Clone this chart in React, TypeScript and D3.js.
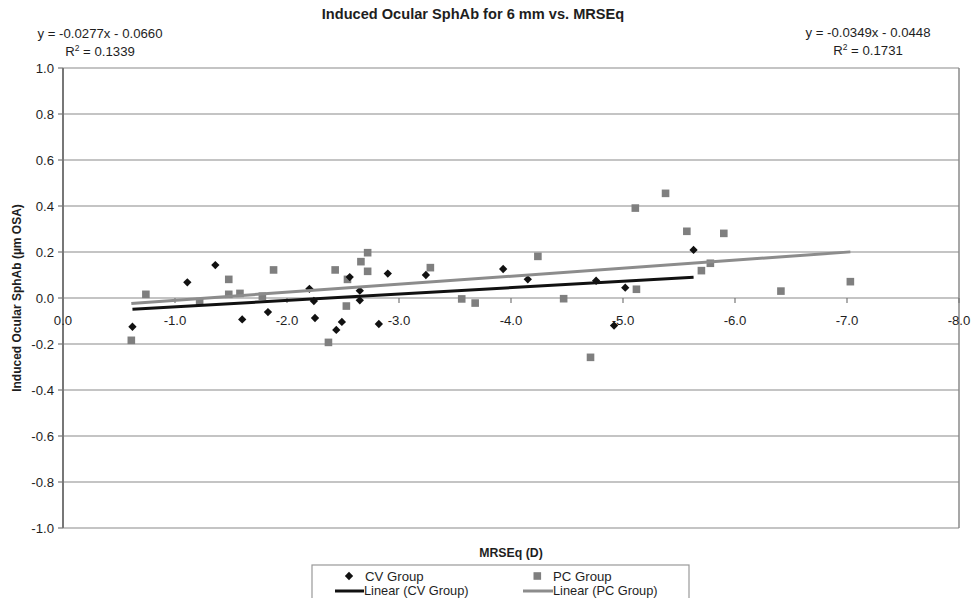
import React from "react";
import * as d3 from "d3";

// CV Group (black diamonds): [MRSEq, induced SphAb]
const cvGroup: [number, number][] = [
  [-0.62, -0.125], [-1.11, 0.068], [-1.36, 0.143], [-1.6, -0.093], [-1.83, -0.061],
  [-2.2, 0.04], [-2.24, -0.013], [-2.25, -0.087], [-2.44, -0.139], [-2.49, -0.104],
  [-2.56, 0.091], [-2.65, 0.032], [-2.65, -0.01], [-2.82, -0.113], [-2.9, 0.106],
  [-3.24, 0.1], [-3.93, 0.126], [-4.15, 0.081], [-4.76, 0.075], [-4.92, -0.12],
  [-5.02, 0.045], [-5.63, 0.209],
];

// PC Group (gray squares)
const pcGroup: [number, number][] = [
  [-0.61, -0.184], [-0.74, 0.016], [-1.22, -0.016], [-1.48, 0.081], [-1.48, 0.016],
  [-1.58, 0.02], [-1.78, 0.008], [-1.88, 0.122], [-2.37, -0.193], [-2.43, 0.122],
  [-2.53, -0.035], [-2.54, 0.081], [-2.66, 0.158], [-2.72, 0.197], [-2.72, 0.116],
  [-3.28, 0.132], [-3.56, -0.004], [-3.68, -0.022], [-4.24, 0.181], [-4.47, -0.003],
  [-4.71, -0.258], [-5.11, 0.391], [-5.12, 0.038], [-5.38, 0.455], [-5.57, 0.29],
  [-5.7, 0.119], [-5.78, 0.151], [-5.9, 0.281], [-6.41, 0.03], [-7.03, 0.071],
];

// trendline coefficients shown on the chart: y = slope * x + intercept
const cvFit = { slope: -0.0277, intercept: -0.066, label: "y = -0.0277x - 0.0660", r2: "0.1339" };
const pcFit = { slope: -0.0349, intercept: -0.0448, label: "y = -0.0349x - 0.0448", r2: "0.1731" };

const xTicks = [0, -1, -2, -3, -4, -5, -6, -7, -8];
const yTicks = [1, 0.8, 0.6, 0.4, 0.2, 0, -0.2, -0.4, -0.6, -0.8, -1];

const W = 971;
const H = 598;
const FONT = "'Liberation Sans', Arial, sans-serif";
const TEXT = "#1e1e1e";
const GRID = "#8a8a8a";
const CV_COLOR = "#111";
const PC_COLOR = "#7f7f7f";
const PC_LINE = "#8c8c8c";
const FS = 13.2; // tick / equation / legend font size

export default function App() {
  const x = d3.scaleLinear().domain([0, -8]).range([63, 959]);
  const y = d3.scaleLinear().domain([-1, 1]).range([528, 68]);

  const fitLine = (pts: [number, number][], fit: { slope: number; intercept: number }) => {
    const [x0, x1] = d3.extent(pts, (d) => d[0]) as [number, number];
    const line = d3
      .line<number>()
      .x((v) => x(v))
      .y((v) => y(fit.slope * v + fit.intercept));
    return line([x1, x0]) || "";
  };

  const diamond = d3.symbol().type(d3.symbolDiamond2).size(44)() || "";

  return (
    <div style={{ position: "absolute", left: 0, top: 0 }}>
      <svg width={W} height={H} style={{ display: "block", background: "#fff" }} fontFamily={FONT}>
        {/* title */}
        <text x={473} y={19} textAnchor="middle" fontSize={14.6} fontWeight="bold" fill={TEXT}>
          Induced Ocular SphAb for 6 mm vs. MRSEq
        </text>

        {/* trendline equations */}
        <text x={100} y={38} textAnchor="middle" fontSize={FS} fill={TEXT}>{cvFit.label}</text>
        <text x={100} y={56} textAnchor="middle" fontSize={FS} fill={TEXT}>
          R<tspan dy={-5} fontSize={8.5}>2</tspan><tspan dy={5}> = {cvFit.r2}</tspan>
        </text>
        <text x={868} y={37} textAnchor="middle" fontSize={FS} fill={TEXT}>{pcFit.label}</text>
        <text x={868} y={55} textAnchor="middle" fontSize={FS} fill={TEXT}>
          R<tspan dy={-5} fontSize={8.5}>2</tspan><tspan dy={5}> = {pcFit.r2}</tspan>
        </text>

        {/* gridlines */}
        {yTicks.map((t) => (
          <line key={`g${t}`} x1={x(0)} x2={x(-8)} y1={y(t)} y2={y(t)} stroke={GRID} strokeWidth={1.2} />
        ))}
        <line x1={x(-8)} x2={x(-8)} y1={y(1)} y2={y(-1)} stroke={GRID} strokeWidth={1.5} />

        {/* y axis */}
        <line x1={x(0)} x2={x(0)} y1={y(1)} y2={y(-1)} stroke="#777" strokeWidth={2} />
        {yTicks.map((t) => (
          <g key={`y${t}`}>
            <line x1={x(0) - 5} x2={x(0)} y1={y(t)} y2={y(t)} stroke="#777" strokeWidth={1.2} />
            <text x={54} y={y(t) + 4.5} textAnchor="end" fontSize={FS} fill={TEXT}>
              {t.toFixed(1)}
            </text>
          </g>
        ))}

        {/* x axis at y = 0 */}
        {xTicks.map((t) => (
          <g key={`x${t}`}>
            <line x1={x(t)} x2={x(t)} y1={y(0)} y2={y(0) + 5} stroke="#777" strokeWidth={1.2} />
            <text x={x(t)} y={y(0) + 27} textAnchor="middle" fontSize={FS} fill={TEXT}>
              {t.toFixed(1)}
            </text>
          </g>
        ))}

        {/* points */}
        {pcGroup.map((d, i) => (
          <rect key={`p${i}`} x={x(d[0]) - 3.8} y={y(d[1]) - 3.8} width={7.6} height={7.6} fill={PC_COLOR} />
        ))}
        {cvGroup.map((d, i) => (
          <path key={`c${i}`} d={diamond} transform={`translate(${x(d[0])},${y(d[1])})`} fill={CV_COLOR} />
        ))}

        {/* trendlines */}
        <path d={fitLine(cvGroup, cvFit)} stroke={CV_COLOR} strokeWidth={3} fill="none" />
        <path d={fitLine(pcGroup, pcFit)} stroke={PC_LINE} strokeWidth={3} fill="none" />

        {/* axis titles */}
        <text
          transform={`translate(21,${y(0)}) rotate(-90)`}
          textAnchor="middle"
          fontSize={12}
          fontWeight="bold"
          fill={TEXT}
        >
          Induced Ocular SphAb (µm OSA)
        </text>
        <text x={511} y={557} textAnchor="middle" fontSize={12.3} fontWeight="bold" fill={TEXT}>
          MRSEq (D)
        </text>

        {/* legend */}
        <rect x={312} y={565} width={377} height={40} fill="#fff" stroke="#999" strokeWidth={1.2} />
        <path d={diamond} transform="translate(349,576)" fill={CV_COLOR} />
        <text x={365} y={580.5} fontSize={FS} fill={TEXT}>CV Group</text>
        <rect x={533.5} y={572.2} width={7.6} height={7.6} fill={PC_COLOR} />
        <text x={553} y={580.5} fontSize={FS} fill={TEXT}>PC Group</text>
        <line x1={335} x2={364} y1={591} y2={591} stroke={CV_COLOR} strokeWidth={3} />
        <text x={364} y={594.5} fontSize={12.8} fill={TEXT}>Linear (CV Group)</text>
        <line x1={523} x2={553} y1={591} y2={591} stroke={PC_LINE} strokeWidth={3} />
        <text x={553} y={594.5} fontSize={12.8} fill={TEXT}>Linear (PC Group)</text>
      </svg>
    </div>
  );
}
